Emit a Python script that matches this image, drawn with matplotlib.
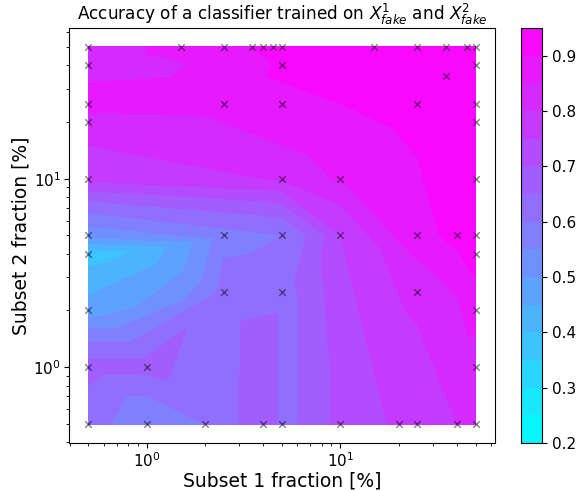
import numpy as np
import matplotlib
matplotlib.use("Agg")
import matplotlib.pyplot as plt

# subset fractions [%] and accuracy at each measured pair
subset1 = [0.5, 1.5, 2.5, 3.5, 4, 4.5, 5, 15, 25, 35, 45, 50,
           0.5, 5, 50,
           35,
           0.5, 2.5, 5, 25, 50,
           0.5, 50,
           0.5, 5, 10, 50,
           0.5, 2.5, 5, 10, 25, 40, 50,
           0.5, 50,
           2.5, 5, 25,
           0.5, 50,
           0.5, 1, 50,
           0.5, 1, 2, 4, 5, 10, 20, 25, 40, 50]
subset2 = [50, 50, 50, 50, 50, 50, 50, 50, 50, 50, 50, 50,
           40, 40, 40,
           35,
           25, 25, 25, 25, 25,
           20, 20,
           10, 10, 10, 10,
           5, 5, 5, 5, 5, 5, 5,
           4, 4,
           2.5, 2.5, 2.5,
           2, 2,
           1, 1, 1,
           0.5, 0.5, 0.5, 0.5, 0.5, 0.5, 0.5, 0.5, 0.5, 0.5]
accuracy = [0.83, 0.87, 0.88, 0.90, 0.91, 0.91, 0.92, 0.93, 0.93, 0.93, 0.93, 0.93,
            0.83, 0.91, 0.93,
            0.93,
            0.87, 0.88, 0.89, 0.93, 0.93,
            0.83, 0.93,
            0.77, 0.81, 0.86, 0.93,
            0.52, 0.58, 0.60, 0.75, 0.88, 0.92, 0.93,
            0.37, 0.92,
            0.62, 0.63, 0.82,
            0.47, 0.88,
            0.67, 0.67, 0.82,
            0.62, 0.55, 0.60, 0.70, 0.63, 0.72, 0.76, 0.77, 0.80, 0.82]

x = np.array(subset1)
y = np.array(subset2)
z = np.array(accuracy)

fig = plt.figure(figsize=(5.81, 4.91), dpi=100)
ax = fig.add_axes([0.119, 0.098, 0.733, 0.845])
cax = fig.add_axes([0.897, 0.098, 0.036, 0.845])

levels = np.arange(0.2, 0.96, 0.05)
cs = ax.tricontourf(x, y, z, levels=levels, cmap='cool')
ax.scatter(x, y, marker='x', color='k', alpha=0.5, s=22, linewidths=1)
ax.set_xscale('log')
ax.set_yscale('log')

# 5% margins in log space like the default autoscaling
lx = np.log10([x.min(), x.max()])
ly = np.log10([y.min(), y.max()])
mx = 0.05 * (lx[1] - lx[0])
my = 0.05 * (ly[1] - ly[0])
ax.set_xlim(10 ** (lx[0] - mx), 10 ** (lx[1] + mx))
ax.set_ylim(10 ** (ly[0] - my), 10 ** (ly[1] + my))

ax.set_title(r'Accuracy of a classifier trained on $X^1_{fake}$ and $X^2_{fake}$', fontsize=12.2)
ax.set_xlabel('Subset 1 fraction [%]', fontsize=13.5, labelpad=1)
ax.set_ylabel('Subset 2 fraction [%]', fontsize=13.5, labelpad=2)
ax.tick_params(labelsize=11, pad=2.5)

cb = fig.colorbar(cs, cax=cax)
cb.set_ticks([0.2, 0.3, 0.4, 0.5, 0.6, 0.7, 0.8, 0.9])
cb.ax.tick_params(labelsize=11)

plt.savefig('out.png', dpi=100)
